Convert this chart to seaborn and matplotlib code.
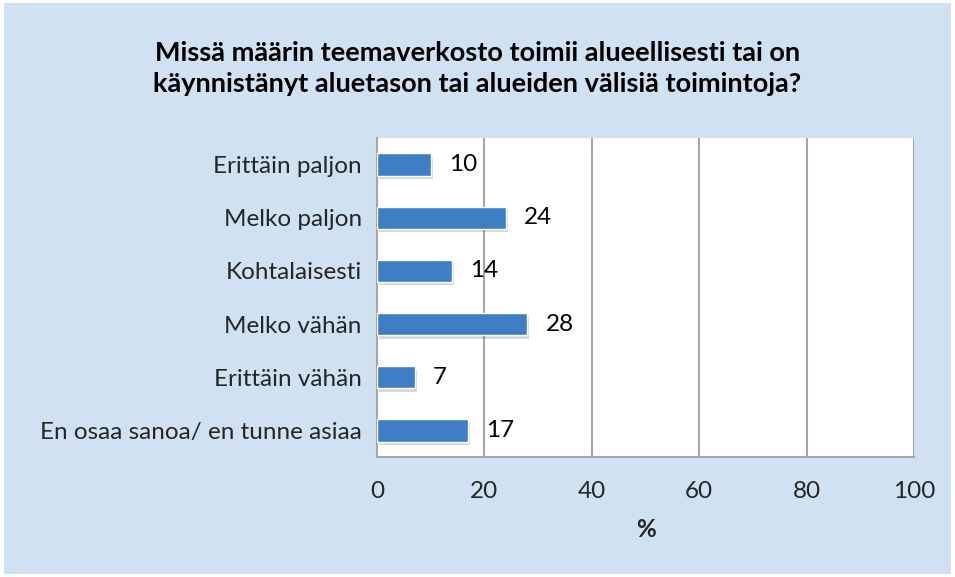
import pandas as pd
import matplotlib
matplotlib.use("Agg")
import matplotlib.pyplot as plt
import matplotlib.patheffects as pe
from matplotlib.patches import Rectangle
import seaborn as sns

sns.set_style("white")
plt.rcParams['font.family'] = ['Lato', 'DejaVu Sans']

# Data
categories = ["Erittäin paljon", "Melko paljon", "Kohtalaisesti",
              "Melko vähän", "Erittäin vähän", "En osaa sanoa/ en tunne asiaa"]
values = [10, 24, 14, 28, 7, 17]
x_ticks = [0, 20, 40, 60, 80, 100]
title = "Missä määrin teemaverkosto toimii alueellisesti tai on\nkäynnistänyt aluetason tai alueiden välisiä toimintoja?"

df = pd.DataFrame({"Vastaus": categories, "Osuus": values})

bg = "#D0E1F2"
grid_col = "#A6A6A6"

fig = plt.figure(figsize=(9.55, 5.77), dpi=100)
fig.patch.set_facecolor("white")
fig.patches.append(Rectangle((0.004, 0.006), 0.992, 0.988, transform=fig.transFigure,
                             facecolor=bg, edgecolor="none", zorder=-10))

ax = fig.add_axes([0.3948, 0.208, 0.5623, 0.553])
ax.set_facecolor("white")

sns.barplot(data=df, x="Osuus", y="Vastaus", color="#3F7EC4", width=0.42,
            saturation=1, ax=ax, zorder=3)

for bar in ax.patches:
    bar.set_path_effects([pe.SimplePatchShadow(offset=(1.5, -2.5), alpha=0.18), pe.Normal()])

ax.bar_label(ax.containers[0], labels=[str(v) for v in values], padding=13,
             fontsize=17.5, color="black")

ax.set_xlim(0, 100)
ax.set_ylim(len(categories) - 0.5, -0.5)
ax.set_xticks(x_ticks)
ax.set_xticklabels([str(t) for t in x_ticks], fontsize=17.5)
ax.tick_params(axis="x", direction="out", length=7, width=1.5, color=grid_col, pad=10)
ax.tick_params(axis="y", which="major", length=0, pad=11, labelsize=17.5)
ax.set_yticks([i + 0.5 for i in range(-1, len(categories))], minor=True)
ax.tick_params(axis="y", which="minor", direction="out", length=6, width=1.5, color=grid_col)

ax.grid(axis="x", color=grid_col, linewidth=1.5, zorder=0)
ax.set_axisbelow(True)
for side in ["top", "right"]:
    ax.spines[side].set_visible(False)
for side in ["left", "bottom"]:
    ax.spines[side].set_color(grid_col)
    ax.spines[side].set_linewidth(1.5)

ax.set_ylabel("")
ax.set_xlabel("%", fontsize=17.5, fontweight="bold", labelpad=12)

fig.text(0.5, 0.882, title, ha="center", va="center", fontsize=19.5,
         fontweight="bold", color="black", linespacing=1.35)

fig.savefig("out.png", dpi=100)
